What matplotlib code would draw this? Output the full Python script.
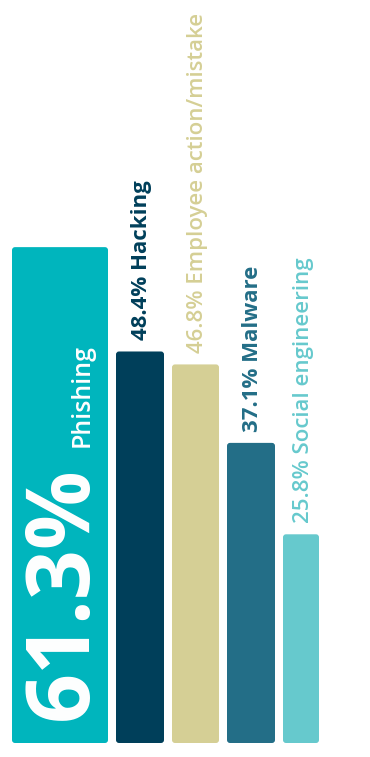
import matplotlib
matplotlib.use('Agg')
import matplotlib.pyplot as plt
from matplotlib.patches import FancyBboxPatch
import numpy as np

plt.rcParams['font.family'] = ['Open Sans', 'DejaVu Sans']

# Data
categories = ['Phishing', 'Hacking', 'Employee action/mistake', 'Malware', 'Social engineering']
values = [61.3, 48.4, 46.8, 37.1, 25.8]
colors = ['#00B5BD', '#003F5A', '#D5CF95', '#236E87', '#66C9CD']
label_weights = ['bold', 'bold', 'semibold', 'bold', 'semibold']

# layout (pixel units on x)
widths = np.array([96, 48, 47, 48, 36])
gap = 8
lefts = 12 + np.concatenate([[0], np.cumsum(widths + gap)[:-1]])
centers = lefts + widths / 2

W, H = 370, 757
fig = plt.figure(figsize=(W / 100, H / 100), dpi=100)
bottom_px = 14
ax = fig.add_axes([0, bottom_px / H, 1, (H - bottom_px) / H])
ymax = 91.85
ax.set_xlim(0, W)
ax.set_ylim(0, ymax)
ax.axis('off')

# y data units per pixel, for rounded corners
aspect = ymax / (H - bottom_px)

bars = ax.bar(centers, values, width=widths, color=colors)
for b, c in zip(bars, colors):
    b.set_visible(False)
    patch = FancyBboxPatch((b.get_x(), b.get_y()), b.get_width(), b.get_height(),
                           boxstyle='round,pad=0,rounding_size=3',
                           mutation_aspect=aspect, fc=c, ec='none')
    ax.add_patch(patch)

# big label inside the first bar
ax.annotate(f'{values[0]}%', xy=(lefts[0] + 75, 0), xytext=(0, 23 * 0.72),
            textcoords='offset points', rotation=90, rotation_mode='anchor',
            ha='left', va='baseline', color='white', fontsize=63, fontweight='bold')
ax.annotate(categories[0], xy=(lefts[0] + 77, 0), xytext=(0, 296 * 0.72),
            textcoords='offset points', rotation=90, rotation_mode='anchor',
            ha='left', va='baseline', color='white', fontsize=18, fontweight='semibold')

# labels above the other bars
for i in range(1, len(values)):
    ax.annotate(f'{values[i]}% {categories[i]}', xy=(centers[i] + 2, values[i]),
                xytext=(0, 8), textcoords='offset points', rotation=90,
                ha='center', va='bottom', color=colors[i], fontsize=16,
                fontweight=label_weights[i])

fig.savefig('out.png', dpi=100)
